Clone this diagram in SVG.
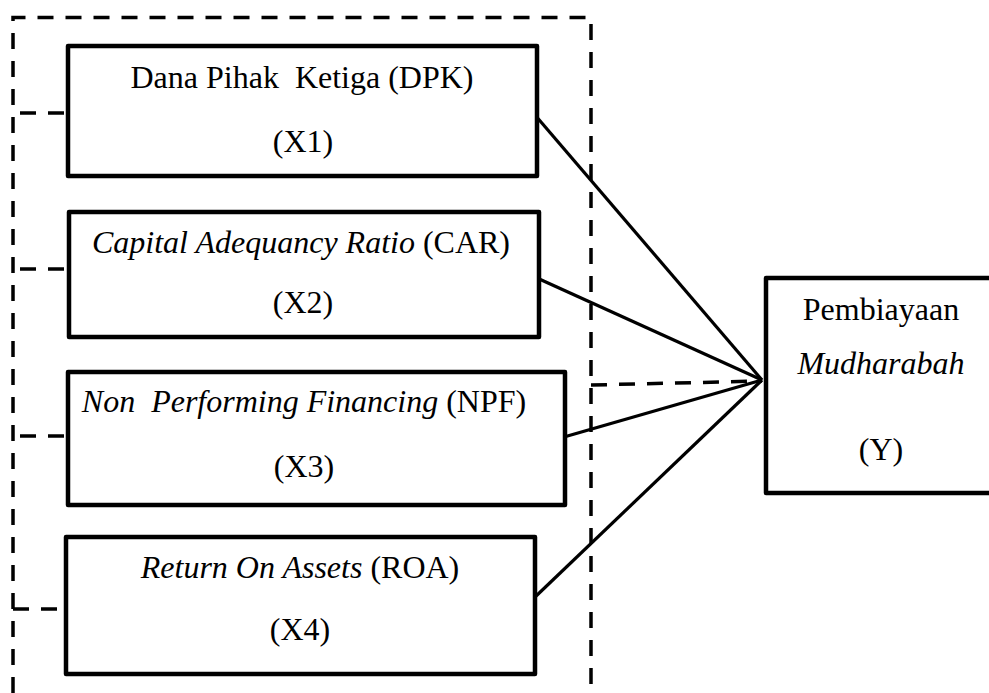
<svg xmlns="http://www.w3.org/2000/svg" width="989" height="693" viewBox="0 0 989 693">
  <style>
    .box { fill: #ffffff; stroke: #000000; stroke-width: 4.5; stroke-linejoin: round; }
    .link { stroke: #000000; stroke-width: 3.2; fill: none; }
    .dash { stroke: #000000; stroke-width: 3.5; fill: none; stroke-dasharray: 16 12; }
    text { font-family: "Liberation Serif", "Times New Roman", serif; font-size: 32px; fill: #000000; text-anchor: middle; white-space: pre; }
    .it { font-style: italic; }
  </style>
  <rect width="989" height="693" fill="#ffffff"/>

  <!-- dashed frame around the independent variables -->
  <g id="frame">
    <path class="dash" d="M13,693 V17.5 H591 V693"/>
  </g>

  <!-- connectors -->
  <g id="connectors">
    <line class="dash" x1="20" y1="113" x2="80" y2="113"/>
    <line class="dash" x1="20" y1="269" x2="80" y2="269"/>
    <line class="dash" x1="20" y1="436" x2="80" y2="436"/>
    <line class="dash" x1="13" y1="609" x2="72" y2="609"/>
    <line class="dash" x1="591" y1="385" x2="762" y2="381"/>
    <line class="link" x1="535" y1="115" x2="762" y2="380"/>
    <line class="link" x1="537" y1="278" x2="762" y2="380"/>
    <line class="link" x1="564" y1="437" x2="762" y2="380"/>
    <line class="link" x1="534" y1="598" x2="762" y2="380"/>
  </g>

  <g id="x1">
    <rect class="box" x="68" y="46" width="469" height="130"/>
    <text x="302" y="88">Dana Pihak  Ketiga (DPK)</text>
    <text x="303" y="152">(X1)</text>
  </g>

  <g id="x2">
    <rect class="box" x="69" y="212" width="470" height="125"/>
    <text x="301" y="253"><tspan class="it">Capital Adequancy Ratio</tspan> (CAR)</text>
    <text x="303" y="313">(X2)</text>
  </g>

  <g id="x3">
    <rect class="box" x="68" y="372" width="497" height="133"/>
    <text x="304" y="412"><tspan class="it">Non  Performing Financing</tspan> (NPF)</text>
    <text x="304" y="477">(X3)</text>
  </g>

  <g id="x4">
    <rect class="box" x="66" y="537" width="469" height="137"/>
    <text x="300" y="578"><tspan class="it">Return On Assets</tspan> (ROA)</text>
    <text x="300" y="640">(X4)</text>
  </g>

  <g id="y">
    <rect class="box" x="766" y="278" width="240" height="215"/>
    <text x="881" y="320">Pembiayaan</text>
    <text class="it" x="881" y="374">Mudharabah</text>
    <text x="881" y="460">(Y)</text>
  </g>
</svg>
